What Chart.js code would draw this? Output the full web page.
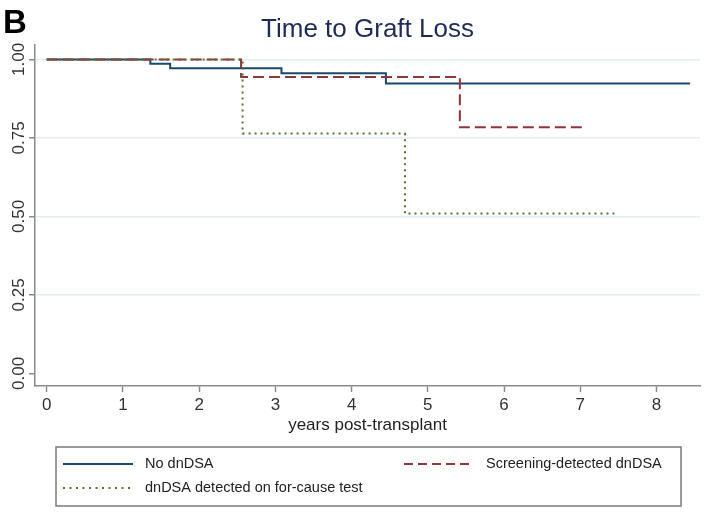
<!DOCTYPE html>
<html lang="en">
<head>
    <meta charset="UTF-8">
    <title>Time to Graft Loss</title>
    <script src="https://cdn.jsdelivr.net/npm/chart.js"></script>
    <style>
        html, body { margin: 0; padding: 0; background: #fff; }
        #wrap { width: 706px; height: 514px; position: relative; }
    </style>
</head>
<body>
    <div id="wrap">
        <canvas id="kmChart" width="706" height="514"></canvas>
    </div>

    <script>
        // Kaplan-Meier curves (years, survival)
        const noDsaTimes = [0, 1.36, 1.62, 3.08, 4.45, 8.44];
        const noDsaSurv = [1.00, 0.986, 0.972, 0.956, 0.923, 0.923];

        const screenTimes = [0, 2.55, 5.42, 7.03];
        const screenSurv = [1.00, 0.944, 0.784, 0.784];

        const causeTimes = [0, 2.57, 4.70, 7.46];
        const causeSurv = [1.00, 0.764, 0.509, 0.509];

        const seriesNames = ['No dnDSA', 'Screening-detected dnDSA', 'dnDSA detected on for-cause test'];
        const xTicks = [0, 1, 2, 3, 4, 5, 6, 7, 8];
        const yTicks = [0, 0.25, 0.5, 0.75, 1];

        const FONT = '"Liberation Sans", Arial, sans-serif';

        function toPoints(xs, ys) {
            return xs.map((x, i) => ({ x: x, y: ys[i] }));
        }

        // draws the panel letter, title, rotated y labels and the boxed legend
        const decorations = {
            id: 'decorations',
            afterDraw(chart) {
                const c = chart.ctx;
                const yScale = chart.scales.y;
                c.save();

                c.fillStyle = '#000';
                c.font = 'bold 33px ' + FONT;
                c.textAlign = 'left';
                c.textBaseline = 'alphabetic';
                c.fillText('B', 3, 33);

                c.fillStyle = '#1e2a58';
                c.font = '26px ' + FONT;
                c.textAlign = 'center';
                c.fillText('Time to Graft Loss', (chart.chartArea.left + chart.chartArea.right) / 2, 37);

                c.fillStyle = '#333';
                c.font = '17px ' + FONT;
                c.textBaseline = 'middle';
                yTicks.forEach(v => {
                    c.save();
                    c.translate(19, yScale.getPixelForValue(v));
                    c.rotate(-Math.PI / 2);
                    c.fillText(v.toFixed(2), 0, 0);
                    c.restore();
                });

                // legend box
                c.strokeStyle = '#7a7a7a';
                c.lineWidth = 1.5;
                c.strokeRect(56, 447, 625, 59);

                const slots = [
                    { x: 63, y: 464, dash: [] },
                    { x: 404, y: 464, dash: [9, 5] },
                    { x: 63, y: 488, dash: [2, 4.5] }
                ];
                c.font = '14.5px ' + FONT;
                c.textAlign = 'left';
                chart.data.datasets.forEach((ds, i) => {
                    const s = slots[i];
                    c.beginPath();
                    c.setLineDash(s.dash);
                    c.strokeStyle = ds.borderColor;
                    c.lineWidth = 2;
                    c.moveTo(s.x, s.y);
                    c.lineTo(s.x + 70, s.y);
                    c.stroke();
                    c.setLineDash([]);
                    c.fillStyle = '#222';
                    c.fillText(ds.label, s.x + 82, s.y);
                });
                c.restore();
            }
        };

        new Chart(document.getElementById('kmChart'), {
            type: 'line',
            data: {
                datasets: [
                    {
                        label: seriesNames[0],
                        data: toPoints(noDsaTimes, noDsaSurv),
                        borderColor: '#1a476f',
                        borderWidth: 2,
                        stepped: true,
                        pointRadius: 0,
                        order: 3
                    },
                    {
                        label: seriesNames[1],
                        data: toPoints(screenTimes, screenSurv),
                        borderColor: '#90353b',
                        borderWidth: 2,
                        borderDash: [11, 5],
                        stepped: true,
                        pointRadius: 0,
                        order: 2
                    },
                    {
                        label: seriesNames[2],
                        data: toPoints(causeTimes, causeSurv),
                        borderColor: '#55752f',
                        borderWidth: 2,
                        borderDash: [2, 4],
                        stepped: true,
                        pointRadius: 0,
                        order: 1
                    }
                ]
            },
            options: {
                responsive: false,
                animation: false,
                layout: { padding: { top: 45, right: 6, bottom: 74, left: 0 } },
                plugins: {
                    legend: { display: false },
                    title: { display: false },
                    tooltip: { enabled: false }
                },
                scales: {
                    x: {
                        type: 'linear',
                        min: -0.153,
                        max: 8.57,
                        afterBuildTicks: axis => { axis.ticks = xTicks.map(v => ({ value: v })); },
                        afterFit: axis => { axis.height = 54; },
                        grid: {
                            color: 'rgba(0,0,0,0)',
                            tickColor: '#8a8a8a',
                            tickLength: 6,
                            tickWidth: 1.5
                        },
                        border: { color: '#8a8a8a', width: 1.5 },
                        ticks: {
                            color: '#333',
                            font: { family: FONT, size: 17 },
                            padding: 3,
                            maxRotation: 0,
                            autoSkip: false
                        },
                        title: {
                            display: true,
                            text: 'years post-transplant',
                            color: '#222',
                            font: { family: FONT, size: 17 },
                            padding: { top: 0, bottom: 4 }
                        }
                    },
                    y: {
                        min: -0.04,
                        max: 1.046,
                        afterBuildTicks: axis => { axis.ticks = yTicks.map(v => ({ value: v })); },
                        afterFit: axis => { axis.width = 35; },
                        grid: {
                            color: ctx => (ctx.tick && ctx.tick.value === 0) ? 'rgba(0,0,0,0)' : '#e2eef1',
                            tickColor: '#8a8a8a',
                            tickLength: 6,
                            tickWidth: 1.5,
                            lineWidth: 1.5
                        },
                        border: { color: '#8a8a8a', width: 1.5 },
                        ticks: { display: false }
                    }
                }
            },
            plugins: [decorations]
        });
    </script>
</body>
</html>
